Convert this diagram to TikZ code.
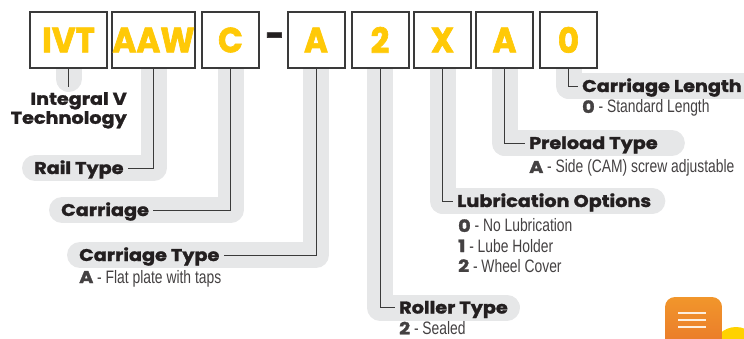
\documentclass[tikz,border=0pt]{standalone}
\usepackage{fontspec}
\setmainfont{Liberation Sans}[FakeStretch=0.77]
\newfontfamily\heavyfont{Poppins}[FakeStretch=1.13, BoldFeatures={FakeBold=1.6}]
\newfontfamily\boxfont{Poppins}[FakeStretch=0.93, BoldFeatures={FakeBold=1.8}]
\usetikzlibrary{backgrounds}

\definecolor{ivtyellow}{HTML}{FFC907}
\definecolor{inkdark}{HTML}{231F20}
\definecolor{bandgray}{HTML}{E6E7E8}
\definecolor{boxedge}{HTML}{3A3A3A}
\definecolor{btntop}{HTML}{F1962B}
\definecolor{btnbottom}{HTML}{E8722A}
\definecolor{btndot}{HTML}{FFD200}

% bold key letter in front of an option
\newcommand\optkey[1]{{\heavyfont\bfseries\fontsize{17}{19}\selectfont #1}}

\begin{document}
\begin{tikzpicture}[x=1pt,y=-1pt,
    % boxes of the part number
    codebox/.style={draw=boxedge, line width=2pt, fill=white, minimum height=56pt,
        minimum width=57pt, inner sep=0pt, text=ivtyellow,
        font=\boxfont\bfseries\fontsize{35}{35}\selectfont},
    % headings of the fields
    title/.style={font=\heavyfont\bfseries\fontsize{17}{19}\selectfont, text=inkdark,
        text height=12pt, text depth=0pt, inner xsep=4pt, inner ysep=0pt},
    % options under a heading
    option/.style={font=\fontsize{18}{20}\selectfont, text=inkdark!85,
        inner sep=0pt, anchor=base west},
    conn/.style={draw=boxedge, line width=0.9pt},
    band/.style={draw=bandgray, line width=26pt, line cap=round, line join=round}]

    \useasboundingbox (0,0) rectangle (744,339);
    \clip (0,0) rectangle (744,339);

    % Part number
    \node[codebox, minimum width=77pt] (ivt) at (68.5,40) {IVT};
    \node[codebox, minimum width=83pt] (aaw) at (153.5,40) {AAW};
    \node[codebox] (carr) at (230.5,40) {C};
    \node[font=\boxfont\bfseries\fontsize{35}{35}\selectfont, text=inkdark, inner sep=0pt] (dash) at (275,40) {-};
    \node[codebox] (ctype) at (316,40) {A};
    \node[codebox] (roll) at (380,40) {2};
    \node[codebox] (lube) at (442.5,40) {X};
    \node[codebox] (pre) at (504.5,40) {A};
    \node[codebox] (len) at (568.5,40) {0};

    % Headings
    \node[title, text height=, text depth=, anchor=north east, align=right, inner xsep=0pt]
        (ivtlbl) at (127,92) {Integral V\\Technology};
    \node[title, anchor=west] (raillbl) at (30,168) {Rail Type};
    \node[title, anchor=west] (carrlbl) at (57,210) {Carriage};
    \node[title, anchor=west] (ctypelbl) at (75,255) {Carriage Type};
    \node[title, anchor=west] (rolllbl) at (395,307.5) {Roller Type};
    \node[title, anchor=west] (lubelbl) at (453,201) {Lubrication Options};
    \node[title, anchor=west] (prelbl) at (525,143) {Preload Type};
    \node[title, anchor=west] (lenlbl) at (578,86) {Carriage Length};

    % Options
    \node[option] (ctypeA) at (79,283) {\optkey{A} - Flat plate with taps};
    \node[option] (roll2) at (399,334.5) {\optkey{2} - Sealed};
    \node[option] (lube0) at (458,232) {\optkey{0} - No Lubrication};
    \node[option] (lube1) at (458,252) {\optkey{1} - Lube Holder};
    \node[option] (lube2) at (458,272) {\optkey{2} - Wheel Cover};
    \node[option] (preA) at (529,173) {\optkey{A} - Side (CAM) screw adjustable};
    \node[option] (len0) at (582,113) {\optkey{0} - Standard Length};

    % Grey bands behind the leaders
    \begin{pgfonlayer}{background}
        \draw[band] (ivt.south) -- ([yshift=-10pt]ivt.south);
        \draw[band] (aaw.south) |- ([xshift=5pt]raillbl.west);
        \draw[band] (carr.south) |- ([xshift=5pt]carrlbl.west);
        \draw[band] (ctype.south) |- ([xshift=5pt]ctypelbl.west);
        \draw[band] (roll.south) |- ([xshift=-5pt]rolllbl.east);
        \draw[band] (lube.south) |- ([xshift=-3pt]lubelbl.east);
        \draw[band] (pre.south) |- ([xshift=10pt]prelbl.east);
        \draw[band] (len.south) |- ([xshift=60pt]lenlbl.east);
    \end{pgfonlayer}

    % Leaders
    \draw[conn] (ivt.south) -- ([yshift=-18pt]ivt.south);
    \draw[conn] (aaw.south) |- (raillbl.east);
    \draw[conn] (carr.south) |- (carrlbl.east);
    \draw[conn] (ctype.south) |- (ctypelbl.east);
    \draw[conn] (roll.south) |- (rolllbl.west);
    \draw[conn] (lube.south) |- (lubelbl.west);
    \draw[conn] (pre.south) |- (prelbl.west);
    \draw[conn] (len.south) |- (lenlbl.west);

    % Chat button in the corner
    \fill[btndot] (736,350) circle (23);
    \shade[top color=btntop, bottom color=btnbottom, rounded corners=10pt] (665,297) rectangle (722,360);
    \foreach \y in {313,320,327}
        \draw[white!85!btntop, line width=1.6pt] (678,\y) -- (706,\y);
\end{tikzpicture}
\end{document}
